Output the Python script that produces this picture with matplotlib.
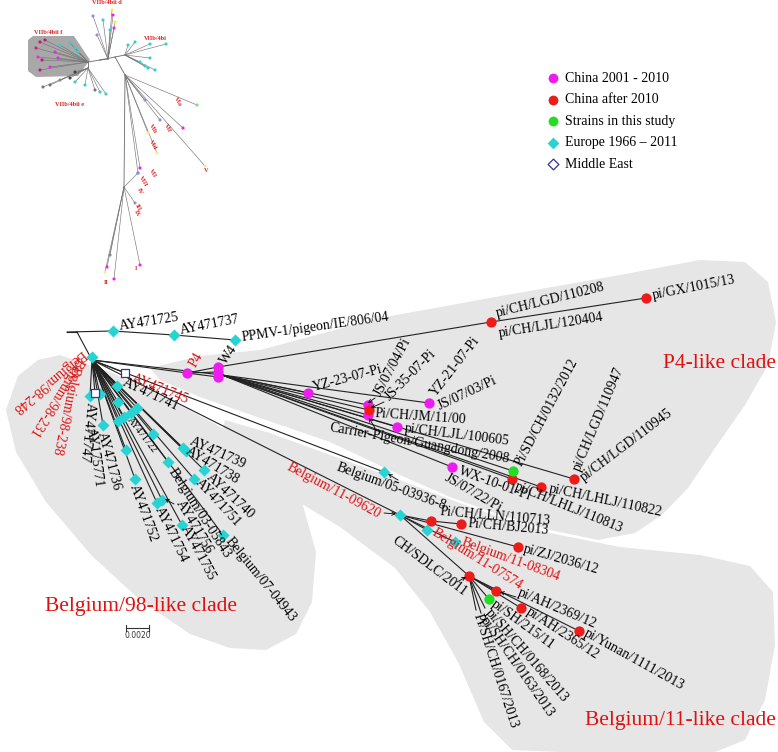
import numpy as np
import matplotlib
matplotlib.use('Agg')
import matplotlib.pyplot as plt
from matplotlib.patches import Polygon

plt.rcParams['font.family'] = ['Liberation Serif', 'DejaVu Serif']

# ---- tree nodes (pixel layout of the radial tree) ----
inner_names = ['root0', 'A', 'B', 'H']
inner_x = [67, 77, 92, 222]
inner_y = [332, 332, 360, 375]
inner_parent = [None, 'root0', 'A', 'B']

# tip name, x, y, group, parent
tip_names = ['AY471725', 'AY471737', 'PPMV-1/pigeon/IE/806/04',
             'b98a', 'b98b', 'b98c', 'AY471747', 'AY175771', 'AY471736', 'AY471741',
             'AY471722', 'AY471739', 'AY471738', 'AY471740', 'AY471751',
             'Belgium/03-05843', 'Belgium/07-04943', 'AY471756', 'AY471755',
             'AY471754', 'AY471752', 'e1', 'e2', 'e3', 'e4', 'e5', 'e6', 'e7',
             'AY471745', 'me2',
             'P4', 'W4', 'w4b', 'w4c', 'YZ-23-07-Pi', 'JS/07/04/Pi', 'JS-35-07-Pi',
             'Pi/CH/JM/11/00', 'YZ-21-07-Pi', 'pi/CH/LJL/100605', 'WX-10-01-Pi',
             'Pi/SD/CH/0132/2012', 'pi/CH/LHLJ/110813', 'pi/CH/LHLJ/110822',
             'pi/CH/LGD/110947', 'pi/CH/LGD/110208', 'pi/GX/1015/13',
             'Belgium/05-03936-8', 'Belgium/11-09620', 'Pi/CH/LLN/110713',
             'Pi/CH/BJ2013', 'Belgium/11-07574', 'Belgium/11-08304', 'pi/ZJ/2036/12',
             'CH/SDLC/2011', 'pi/AH/2369/12', 'pi/AH/2365/12', 'pi/Yunan/1111/2013',
             'pi/SH/215/11', 'sh1', 'sh2', 'sh3']
tip_x = [113, 174, 235,
         92, 94, 96, 90, 100, 103, 117,
         131, 183, 186, 204, 194,
         168, 223, 162, 182,
         157, 135, 118, 118, 124, 137, 153, 126, 92,
         125, 95,
         187, 218, 218, 218, 308, 368, 369,
         368, 429, 397, 452,
         513, 512, 541,
         574, 491, 646,
         384, 400, 431,
         461, 427, 455, 518,
         469, 496, 521, 579,
         489, 485, 481, 476]
tip_y = [331, 335, 340,
         366, 372, 378, 396, 394, 425, 386,
         413, 448, 451, 470, 479,
         462, 535, 500, 525,
         503, 479, 402, 421, 417, 408, 434, 450, 357,
         373, 393,
         373, 367, 372, 377, 393, 405, 410,
         415, 403, 427, 467,
         471, 479, 487,
         479, 322, 298,
         472, 515, 521,
         524, 530, 542, 547,
         576, 591, 608, 631,
         599, 608, 613, 610]
tip_group = ['eu', 'eu', 'eu',
             '', '', '', 'eu', 'eu', 'eu', 'eu',
             'eu', 'eu', 'eu', 'eu', 'eu',
             'eu', 'eu', 'eu', 'eu',
             'eu', 'eu', 'eu', 'eu', 'eu', 'eu', 'eu', 'eu', 'eu',
             'me', 'me',
             'cn01', 'cn01', 'cn01', 'cn01', 'cn01', 'cn01', 'cn10',
             'cn01', 'cn01', 'cn01', 'cn01',
             'study', 'cn10', 'cn10',
             'cn10', 'cn10', 'cn10',
             'eu', 'eu', 'cn10',
             'cn10', 'eu', 'eu', 'cn10',
             'cn10', 'cn10', 'cn10', 'cn10',
             'study', '', '', '']
tip_parent = ['root0', 'AY471725', 'AY471737',
              'B', 'B', 'B', 'B', 'B', 'B', 'B',
              'B', 'B', 'B', 'B', 'B',
              'B', 'B', 'B', 'B',
              'B', 'B', 'B', 'B', 'B', 'B', 'B', 'B', 'B',
              'B', 'B',
              'B', 'P4', 'P4', 'P4', 'H', 'H', 'H',
              'H', 'H', 'H', 'H',
              'H', 'H', 'H',
              'H', 'W4', 'pi/CH/LGD/110208',
              'B', 'B', 'Belgium/11-09620',
              'Pi/CH/LLN/110713', 'Belgium/11-09620', 'Belgium/11-09620', 'Belgium/11-09620',
              'Belgium/11-09620', 'CH/SDLC/2011', 'CH/SDLC/2011', 'CH/SDLC/2011',
              'CH/SDLC/2011', 'CH/SDLC/2011', 'CH/SDLC/2011', 'CH/SDLC/2011']

# ---- tip labels: text, start x, start y, rotation ----
lab_text = ['AY471725', 'AY471737', 'PPMV-1/pigeon/IE/806/04',
            'Belgium/98-248', 'Belgium/98-231', 'Belgium/98-238',
            'AY471747', 'AY175771', 'AY471736', 'AY471741', 'AY471722',
            'AY471739', 'AY471738', 'AY471740', 'AY471751', 'Belgium/03-05843',
            'Belgium/07-04943', 'AY471756', 'AY471755', 'AY471754', 'AY471752',
            'AY471745', 'P4', 'W4', 'YZ-23-07-Pi', 'JS/07/04/Pi', 'JS-35-07-Pi',
            'Pi/CH/JM/11/00', 'Carrier-Pigeon/Guangdong/2008', 'YZ-21-07-Pi',
            'JS/07/03/Pi', 'pi/CH/LJL/100605', 'WX-10-01-Pi', 'JS/07/22/Pi',
            'Pi/SD/CH/0132/2012', 'pi/CH/LHLJ/110813', 'pi/CH/LHLJ/110822',
            'pi/CH/LGD/110947', 'pi/CH/LGD/110945', 'pi/CH/LGD/110208',
            'pi/CH/LJL/120404', 'pi/GX/1015/13',
            'Belgium/05-03936-8', 'Belgium/11-09620', 'Pi/CH/LLN/110713',
            'Pi/CH/BJ2013', 'Belgium/11-08304', 'pi/ZJ/2036/12', 'Belgium/11-07574',
            'CH/SDLC/2011', 'pi/AH/2369/12', 'pi/AH/2365/12', 'pi/Yunan/1111/2013',
            'pi/SH/215/11', 'pi/SH/CH/0168/2013', 'pi/SH/CH/0163/2013',
            'Pi/SH/CH/0167/2013']
lab_x = [119, 180, 242,
         84, 80, 75,
         90, 90, 101, 123, 129,
         190, 187, 208, 197, 171,
         228, 179, 184, 158, 133,
         132, 193, 223, 313, 378, 387,
         375, 330, 433,
         438, 405, 459, 446,
         518, 515, 549,
         577, 582, 496,
         499, 653,
         337, 288, 440,
         468, 462, 524, 433,
         393, 518, 527, 585,
         493, 488, 483, 477]
lab_y = [327, 331, 338,
         352, 358, 366,
         402, 428, 432, 382, 418,
         441, 450, 475, 481, 469,
         539, 501, 526, 507, 485,
         378, 366, 363, 388, 395, 399,
         414, 428, 395,
         407, 429, 471, 477,
         465, 486, 489,
         470, 479, 314,
         334, 296,
         467, 466, 512,
         524, 542, 549, 531,
         539, 592, 611, 632,
         603, 611, 618, 614]
lab_rot = [9, 11, 8,
           220, 238, 258,
           -96, -82, -75, -25, -52,
           -24, -31, -43, -47, -57,
           -51, -59, -62, -64, -70,
           -22, 60, 55, 15, 62, 45,
           -4, -10, 52,
           25, -7, -20, -30,
           62, -22, -12,
           67, 37, 14,
           9, 11,
           -20, -28, -5,
           -5, -20, -16, -32,
           -37, -23, -33, -29,
           -36, -49, -55, -72]
red_labels = ['Belgium/98-248', 'Belgium/98-231', 'Belgium/98-238', 'AY471745', 'P4',
              'Belgium/11-09620', 'Belgium/11-08304', 'Belgium/11-07574']

# arrows from label to node
arrow_from = [(174, 504), (375, 398), (384, 402), (375, 428), (398, 480),
              (384, 513), (457, 582), (516, 597)]
arrow_to = [(165, 499), (368, 403), (371, 408), (369, 418), (388, 474),
            (396, 514), (466, 577), (500, 592)]

# ---- legend ----
legend_labels = ['China 2001 - 2010', 'China after 2010', 'Strains in this study',
                 'Europe 1966 \u2013 2011', 'Middle East']
legend_groups = ['cn01', 'cn10', 'study', 'eu', 'me']

# ---- inset overview tree ----
in_hub_names = ['i0', 'i1', 'i2', 'i3', 'i4', 'i5', 'i6', 'i7']
in_hub_x = [100, 88, 115, 125, 125, 88, 108, 124]
in_hub_y = [60, 62, 57, 55, 75, 68, 59, 187]
in_hub_parent = [None, 'i0', 'i0', 'i2', 'i2', 'i1', 'i0', 'i4']
in_tip_x = [40, 36, 45, 38, 42, 40, 50, 58, 60, 70, 75, 78, 55,
            43, 50, 60, 70, 75, 85, 95, 100, 106, 75,
            93, 97, 103, 112, 113, 115, 114, 110,
            128, 135, 150, 166, 150, 140, 148, 155, 145,
            197, 205, 183, 157, 148, 140, 138, 160, 145,
            140, 135, 138, 107, 110, 105, 114]
in_tip_y = [42, 48, 40, 57, 60, 70, 67, 58, 45, 43, 48, 52, 52,
            87, 85, 80, 78, 82, 85, 90, 92, 94, 72,
            16, 35, 20, 10, 15, 22, 28, 30,
            45, 42, 44, 44, 58, 62, 68, 70, 66,
            105, 166, 128, 153, 133, 168, 173, 120, 100,
            265, 203, 173, 267, 255, 272, 279]
in_tip_parent = ['i1'] * 13 + ['i5'] * 10 + ['i6'] * 8 + ['i3'] * 9 + ['i4'] * 9 + ['i7'] * 7
in_tip_col = ['#c0187a', '#d0206e', '#c0187a', '#ee22ee', '#c0187a', '#c0187a', '#ee22ee',
              '#ee22ee', '#30d0d0', '#30d0d0', '#30d0d0', '#30d0d0', '#ee22ee',
              '#777777', '#777777', '#888888', '#444444', '#30d0d0', '#30d0d0', '#777777',
              '#30d0d0', '#30d0d0', '#444444',
              '#9090d0', '#9090d0', '#30d0d0', '#eeee44', '#ee22ee', '#eeee44', '#ee22ee', '#30d0d0',
              '#30d0d0', '#30d0d0', '#30d0d0', '#30d0d0', '#30d0d0', '#30d0d0', '#30d0d0',
              '#30d0d0', '#30d0d0',
              '#7be07b', '#eeee88', '#ee22ee', '#eeee88', '#eeee88', '#ee22ee', '#9090d0',
              '#9090d0', '#9090d0',
              '#ee22ee', '#9090d0', '#9090d0', '#ee22ee', '#888888', '#eeee88', '#ee22ee']
in_lab_text = ['VIIb/4bii f', 'VIIb/4bii d', 'VIIb/4bi', 'VIIb/4bii e', 'VIa', 'VIf', 'VIb',
               'VId', 'VII', 'VIII', 'IV', 'III', 'IX', 'I', 'II', 'V']
in_lab_x = [48, 107, 155, 70, 178, 167, 153, 153, 153, 143, 140, 138, 137, 136, 106, 206]
in_lab_y = [32, 3, 39, 104, 102, 128, 129, 145, 173, 181, 191, 207, 213, 268, 283, 171]

colors = {'cn01': '#ee1cee', 'cn10': '#ee1b1b', 'study': '#22dd22',
          'eu': '#27d3d3', 'me': '#33339a'}

fig = plt.figure(figsize=(7.78, 7.52), dpi=100)
ax = fig.add_axes([0, 0, 1, 1])
ax.set_xlim(0, 778)
ax.set_ylim(752, 0)
ax.axis('off')

# clade shading
shade = '#e6e6e6'
b98 = [(60, 355), (110, 372), (170, 400), (230, 432), (272, 462), (302, 502),
       (316, 552), (312, 602), (296, 634), (266, 650), (230, 648), (190, 634),
       (140, 600), (92, 556), (46, 502), (16, 452), (6, 410), (18, 376), (38, 360)]
p4 = [(150, 368), (200, 356), (260, 350), (380, 318), (490, 298), (620, 275),
      (700, 260), (745, 262), (768, 282), (776, 322), (768, 365), (745, 405),
      (715, 448), (688, 488), (662, 515), (635, 533), (598, 540), (550, 530),
      (500, 515), (450, 497), (400, 475), (330, 442), (260, 418), (200, 397), (160, 380)]
b11 = [(225, 420), (270, 433), (330, 455), (400, 480), (470, 507), (545, 532),
       (620, 547), (700, 555), (750, 566), (773, 592), (775, 645), (765, 700),
       (745, 740), (715, 752), (560, 752), (512, 750), (484, 722), (458, 662),
       (430, 612), (395, 568), (340, 527), (282, 492), (242, 458), (222, 432)]
for poly in (b98, p4, b11):
    ax.add_patch(Polygon(poly, closed=True, facecolor=shade, edgecolor='none',
                         joinstyle='round', zorder=0))

# branches
pos = {}
for n, x, y in zip(inner_names, inner_x, inner_y):
    pos[n] = (x, y)
for n, x, y in zip(tip_names, tip_x, tip_y):
    pos[n] = (x, y)
for n, p in zip(inner_names, inner_parent):
    if p:
        ax.plot([pos[p][0], pos[n][0]], [pos[p][1], pos[n][1]], color='#222222', lw=0.8, zorder=1)
for n, p in zip(tip_names, tip_parent):
    ax.plot([pos[p][0], pos[n][0]], [pos[p][1], pos[n][1]], color='#222222', lw=0.8, zorder=1)

# tip markers
tx = np.array(tip_x)
ty = np.array(tip_y)
tg = np.array(tip_group)
for g in ['cn01', 'cn10', 'study']:
    m = tg == g
    ax.scatter(tx[m], ty[m], s=55, marker='o', color=colors[g], zorder=3, linewidths=0)
m = tg == 'eu'
ax.scatter(tx[m], ty[m], s=38, marker='D', color=colors['eu'], zorder=3, linewidths=0)
m = tg == 'me'
ax.scatter(tx[m], ty[m], s=36, marker='s', facecolor='white', edgecolor=colors['me'],
           zorder=3, linewidths=0.9)

# tip labels
for t, x, y, r in zip(lab_text, lab_x, lab_y, lab_rot):
    c = '#e01010' if t in red_labels else 'black'
    fs = 7 if t == 'AY471722' else 10
    ax.text(x, y, t, rotation=r, rotation_mode='anchor', ha='left', va='center',
            fontsize=fs, color=c, zorder=4)

for a, b in zip(arrow_from, arrow_to):
    ax.annotate('', xy=b, xytext=a,
                arrowprops=dict(arrowstyle='->', lw=0.6, color='black',
                                shrinkA=0, shrinkB=0, mutation_scale=6))

# clade names
ax.text(720, 363, 'P4-like clade', fontsize=15.5, color='#e01010', ha='center', va='center')
ax.text(141, 606, 'Belgium/98-like clade', fontsize=15.5, color='#e01010', ha='center', va='center')
ax.text(680, 720, 'Belgium/11-like clade', fontsize=15.5, color='#e01010', ha='center', va='center')

# scale bar
ax.plot([126, 149], [628, 628], color='#333333', lw=0.8)
ax.plot([126, 126], [625, 631], color='#333333', lw=0.8)
ax.plot([149, 149], [625, 631], color='#333333', lw=0.8)
ax.text(137.5, 635, '0.0020', fontsize=5.5, ha='center', va='center', color='#333333',
        family='DejaVu Sans')

# legend
for i, (lab, g) in enumerate(zip(legend_labels, legend_groups)):
    y = 78 + i * 21.6
    if g == 'me':
        ax.scatter([553], [y], s=30, marker='D', facecolor='white', edgecolor=colors[g],
                   linewidths=0.9)
    elif g == 'eu':
        ax.scatter([553], [y], s=36, marker='D', color=colors[g], linewidths=0)
    else:
        ax.scatter([553], [y], s=50, marker='o', color=colors[g], linewidths=0)
    ax.text(565, y, lab, fontsize=10, va='center', ha='left')

# inset overview tree
ax.add_patch(Polygon([(28, 40), (33, 36), (74, 36), (90, 60), (78, 76), (36, 77), (28, 71)],
                     closed=True, facecolor='#a8a8a8', edgecolor='none', zorder=0))
ipos = {}
for n, x, y in zip(in_hub_names, in_hub_x, in_hub_y):
    ipos[n] = (x, y)
for n, p in zip(in_hub_names, in_hub_parent):
    if p:
        ax.plot([ipos[p][0], ipos[n][0]], [ipos[p][1], ipos[n][1]], color='#666666', lw=0.6)
for x, y, p in zip(in_tip_x, in_tip_y, in_tip_parent):
    ax.plot([ipos[p][0], x], [ipos[p][1], y], color='#777777', lw=0.45)
ax.scatter(in_tip_x, in_tip_y, s=5, c=in_tip_col, linewidths=0, zorder=2)
for t, x, y in zip(in_lab_text, in_lab_x, in_lab_y):
    r = -60 if t in ('VIa', 'VIf', 'VIb', 'VId', 'VII', 'VIII', 'IV', 'III', 'IX') else 0
    ax.text(x, y, t, fontsize=4.5, color='#e02020', fontweight='bold', rotation=r,
            ha='center', va='center')

fig.savefig('out.png', dpi=100)
